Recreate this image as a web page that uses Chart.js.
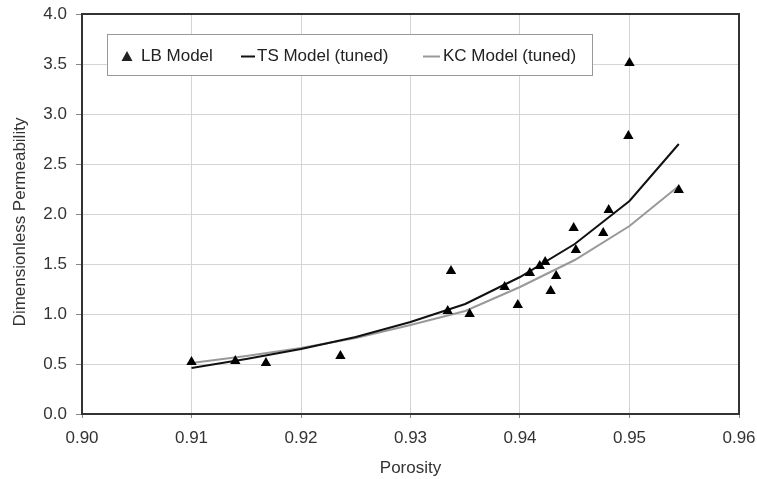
<!DOCTYPE html>
<html><head><meta charset="utf-8">
<script src="https://cdn.jsdelivr.net/npm/chart.js@4/dist/chart.umd.min.js"></script>
<style>html,body{margin:0;padding:0;background:#fff}#wrap{width:757px;height:479px}</style>
</head><body><div id="wrap"><canvas id="c"></canvas></div>
<script>
const lbPorosity = [0.9100,0.9140,0.9168,0.9236,0.9334,0.9337,0.9354,0.9386,0.9398,0.9409,0.9418,0.9423,0.9428,0.9433,0.9449,0.9451,0.9476,0.9481,0.9499,0.9500,0.9545];
const lbPerm     = [0.52,0.53,0.51,0.58,1.03,1.43,1.00,1.27,1.09,1.41,1.48,1.52,1.23,1.38,1.86,1.64,1.81,2.04,2.78,3.51,2.24];
const curvePorosity = [0.910,0.915,0.920,0.925,0.930,0.935,0.940,0.945,0.950,0.9545];
const tsPerm = [0.46,0.55,0.65,0.77,0.92,1.10,1.37,1.70,2.13,2.70];
const kcPerm = [0.51,0.58,0.66,0.76,0.89,1.03,1.27,1.54,1.88,2.28];
const xTicks = [0.90,0.91,0.92,0.93,0.94,0.95,0.96];
const yTicks = [0.0,0.5,1.0,1.5,2.0,2.5,3.0,3.5,4.0];
const labels = ['LB Model','TS Model (tuned)','KC Model (tuned)'];
const xTitle = 'Porosity';
const yTitle = 'Dimensionless Permeability';

const toXY = (xs, ys) => xs.map((x, i) => ({x, y: ys[i]}));
const FONT = '"Liberation Sans", Arial, sans-serif';
const FS = 17;

const framePlugin = {
  id: 'frame',
  afterDatasetsDraw(chart) {
    const {ctx, chartArea: a} = chart;
    ctx.save();
    ctx.strokeStyle = '#333';
    ctx.lineWidth = 2;
    ctx.strokeRect(a.left, a.top, a.right - a.left, a.bottom - a.top);
    // legend box
    const lx = 107, ly = 34, lw = 485, lh = 41;
    ctx.fillStyle = '#fff';
    ctx.fillRect(lx, ly, lw, lh);
    ctx.strokeStyle = '#999';
    ctx.lineWidth = 1;
    ctx.strokeRect(lx + 0.5, ly + 0.5, lw, lh);
    ctx.font = FS + 'px ' + FONT;
    ctx.textBaseline = 'middle';
    ctx.fillStyle = '#222';
    const cy = 56.5;
    ctx.beginPath();
    ctx.moveTo(127, cy - 5.5); ctx.lineTo(132.5, cy + 4.5); ctx.lineTo(121.5, cy + 4.5); ctx.closePath();
    ctx.fill();
    ctx.fillText(labels[0], 141, cy);
    ctx.strokeStyle = '#111'; ctx.lineWidth = 2;
    ctx.beginPath(); ctx.moveTo(241, cy); ctx.lineTo(255, cy); ctx.stroke();
    ctx.fillText(labels[1], 257, cy);
    ctx.strokeStyle = '#999';
    ctx.beginPath(); ctx.moveTo(423, cy); ctx.lineTo(440, cy); ctx.stroke();
    ctx.fillText(labels[2], 443, cy);
    // axis titles
    ctx.fillStyle = '#333';
    ctx.textAlign = 'center';
    ctx.fillText(xTitle, (a.left + a.right) / 2, 468);
    ctx.translate(20, 222);
    ctx.rotate(-Math.PI / 2);
    ctx.fillText(yTitle, 0, 0);
    ctx.restore();
  }
};

new Chart(document.getElementById('c'), {
  type: 'scatter',
  data: {
    datasets: [
      {label: labels[1], type: 'line', data: toXY(curvePorosity, tsPerm), borderColor: '#111', borderWidth: 2, pointRadius: 0, fill: false, tension: 0, order: 2},
      {label: labels[2], type: 'line', data: toXY(curvePorosity, kcPerm), borderColor: '#999', borderWidth: 2, pointRadius: 0, fill: false, tension: 0, order: 3},
      {label: labels[0], data: toXY(lbPorosity, lbPerm), pointStyle: 'triangle', pointRadius: 6, pointHoverRadius: 6, backgroundColor: '#000', borderColor: '#000', borderWidth: 0, order: 1}
    ]
  },
  options: {
    responsive: true, maintainAspectRatio: false, animation: false,
    layout: {autoPadding: false, padding: {top: 14, right: 18, left: 0, bottom: 0}},
    plugins: {legend: {display: false}, tooltip: {enabled: false}},
    scales: {
      x: {
        type: 'linear', min: 0.90, max: 0.96,
        afterBuildTicks: s => { s.ticks = xTicks.map(v => ({value: v})); },
        afterFit: s => { s.height = 65; s.paddingLeft = 0; s.paddingRight = 0; },
        ticks: {callback: v => v.toFixed(2), color: '#333', font: {family: FONT, size: FS}, padding: 10, maxRotation: 0},
        grid: {color: '#d4d4d4', lineWidth: 1, tickLength: 4, tickColor: '#888'},
        border: {display: false},
        title: {display: false}
      },
      y: {
        min: 0, max: 4,
        afterBuildTicks: s => { s.ticks = yTicks.map(v => ({value: v})); },
        afterFit: s => { s.width = 82; s.paddingTop = 0; s.paddingBottom = 0; },
        ticks: {callback: v => v.toFixed(1), color: '#333', font: {family: FONT, size: FS}, padding: 9},
        grid: {color: '#d4d4d4', lineWidth: 1, tickLength: 6, tickColor: '#888'},
        border: {display: false},
        title: {display: false}
      }
    }
  },
  plugins: [framePlugin]
});
</script></body></html>
